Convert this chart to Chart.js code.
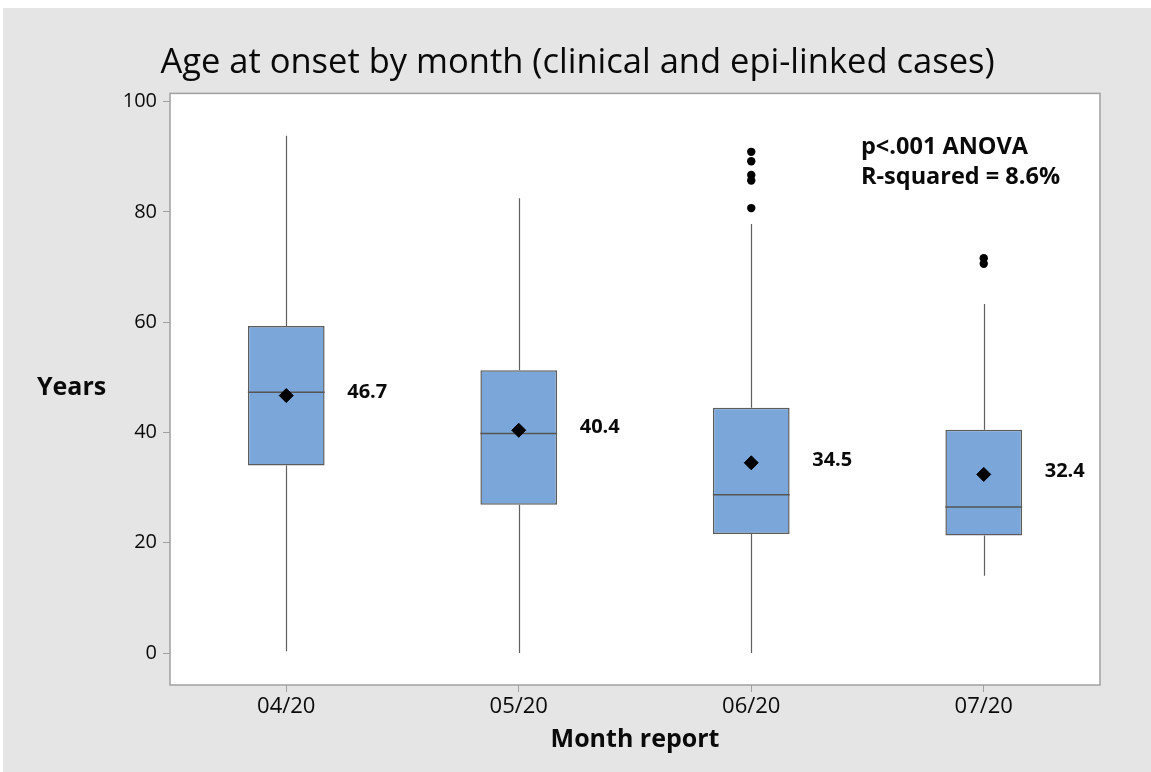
<!DOCTYPE html>
<html>
<head>
<meta charset="utf-8">
<script src="https://cdn.jsdelivr.net/npm/chart.js@4.4.0/dist/chart.umd.min.js"></script>
<style>
  html, body { margin: 0; padding: 0; background: #ffffff; }
  #wrap { position: absolute; left: 0; top: 0; width: 1151px; height: 772px; }
</style>
</head>
<body>
<div id="wrap"><canvas id="boxChart" width="1151" height="772"></canvas></div>
<script>
/* ---------- data ---------- */
const months = ['04/20', '05/20', '06/20', '07/20'];
const whiskerLow = [0.3, 0, 0, 14.0];
const q1 = [34.0, 26.9, 21.6, 21.3];
const medians = [47.3, 39.8, 28.7, 26.5];
const q3 = [59.3, 51.3, 44.5, 40.5];
const whiskerHigh = [93.8, 82.5, 77.8, 63.3];
const means = [46.7, 40.4, 34.5, 32.4];
const outliers0620 = [90.9, 89.2, 86.7, 85.7, 80.7];
const outliers0720 = [71.6, 70.6];
const yTicks = [0, 20, 40, 60, 80, 100];
const notes = ['p<.001 ANOVA', 'R-squared = 8.6%'];

const FONT = "'Open Sans', 'Noto Sans', sans-serif";
const TEXT = '#0a0a0a';
const FRAME = '#a0a0a0';

// floating bars for the boxes
const boxes = months.map((m, i) => [q1[i], q3[i]]);
const outlierPoints = outliers0620.map(v => ({ x: '06/20', y: v }))
  .concat(outliers0720.map(v => ({ x: '07/20', y: v })));

/* ---------- plugin: background, frame, whiskers, medians, labels ---------- */
const boxPlotExtras = {
  id: 'boxPlotExtras',
  beforeDraw(chart) {
    const { ctx, chartArea } = chart;
    ctx.save();
    ctx.fillStyle = '#e5e5e5';
    ctx.fillRect(3, 8, chart.width - 3, chart.height - 8);
    ctx.fillStyle = '#ffffff';
    ctx.fillRect(chartArea.left, chartArea.top, chartArea.right - chartArea.left, chartArea.bottom - chartArea.top);
    ctx.restore();
  },
  beforeDatasetsDraw(chart) {
    const { ctx, scales: { x, y } } = chart;
    ctx.save();
    ctx.strokeStyle = '#606060';
    ctx.lineWidth = 1.2;
    months.forEach((m, i) => {
      const cx = Math.round(x.getPixelForValue(i)) + 0.5;
      ctx.beginPath();
      ctx.moveTo(cx, y.getPixelForValue(whiskerLow[i]));
      ctx.lineTo(cx, y.getPixelForValue(q1[i]));
      ctx.moveTo(cx, y.getPixelForValue(q3[i]));
      ctx.lineTo(cx, y.getPixelForValue(whiskerHigh[i]));
      ctx.stroke();
    });
    ctx.restore();
  },
  afterDatasetDraw(chart, args) {
    if (args.index !== 0) return;
    const { ctx, scales: { y } } = chart;
    const meta = chart.getDatasetMeta(0);
    ctx.save();
    ctx.strokeStyle = '#555555';
    ctx.lineWidth = 1.5;
    meta.data.forEach((bar, i) => {
      const half = bar.width / 2;
      const py = y.getPixelForValue(medians[i]);
      ctx.beginPath();
      ctx.moveTo(bar.x - half, py);
      ctx.lineTo(bar.x + half, py);
      ctx.stroke();
    });
    ctx.restore();
  },
  afterDraw(chart) {
    const { ctx, chartArea, scales: { x, y } } = chart;
    ctx.save();
    // frame round the plot area
    ctx.strokeStyle = FRAME;
    ctx.lineWidth = 1.5;
    ctx.strokeRect(chartArea.left, chartArea.top, chartArea.right - chartArea.left, chartArea.bottom - chartArea.top);

    // mean labels
    ctx.fillStyle = TEXT;
    ctx.font = `bold 20px ${FONT}`;
    ctx.textAlign = 'center';
    ctx.textBaseline = 'middle';
    means.forEach((v, i) => {
      ctx.fillText(v.toFixed(1), x.getPixelForValue(i) + 81, y.getPixelForValue(v) - 3);
    });

    // ANOVA notes
    ctx.textAlign = 'left';
    ctx.font = `bold 23.5px ${FONT}`;
    notes.forEach((t, k) => {
      ctx.fillText(t, 861, 147 + k * 30);
    });

    // horizontal y-axis title
    ctx.font = `bold 25px ${FONT}`;
    ctx.fillText('Years', 37, 388);
    ctx.restore();
  }
};

/* ---------- chart ---------- */
const ctx = document.getElementById('boxChart').getContext('2d');

const chart = new Chart(ctx, {
  type: 'bar',
  data: {
    labels: months,
    datasets: [
      {
        type: 'bar',
        data: boxes,
        backgroundColor: '#7ba6d9',
        borderColor: '#5c5c5c',
        borderWidth: 1.5,
        borderSkipped: false,
        barPercentage: 0.33,
        categoryPercentage: 1,
        order: 3
      },
      {
        type: 'line',
        data: means,
        showLine: false,
        pointStyle: 'rectRot',
        pointRadius: 7,
        pointBackgroundColor: '#000000',
        pointBorderColor: '#000000',
        pointBorderWidth: 1,
        order: 1
      },
      {
        type: 'line',
        data: outlierPoints,
        showLine: false,
        pointStyle: 'circle',
        pointRadius: 4.2,
        pointBackgroundColor: '#000000',
        pointBorderColor: '#000000',
        pointBorderWidth: 0,
        order: 2
      }
    ]
  },
  options: {
    responsive: false,
    animation: false,
    layout: { padding: { left: 55, right: 51, top: 0, bottom: 0 } },
    plugins: {
      legend: { display: false },
      tooltip: { enabled: false },
      title: {
        display: true,
        text: 'Age at onset by month (clinical and epi-linked cases)',
        color: TEXT,
        font: { family: FONT, size: 34.5, weight: 'normal' },
        padding: { top: 42, bottom: 10 }
      }
    },
    scales: {
      x: {
        type: 'category',
        offset: true,
        grid: { display: true, offset: false, drawOnChartArea: false, drawTicks: true, tickLength: 7, color: FRAME },
        border: { display: false },
        ticks: { color: TEXT, font: { family: FONT, size: 22 }, padding: 2 },
        title: {
          display: true,
          text: 'Month report',
          color: TEXT,
          font: { family: FONT, size: 25, weight: 'bold' },
          padding: { top: 0, bottom: 17 }
        },
        afterFit(scale) { scale.height = 87; }
      },
      y: {
        min: -5.8,
        max: 101.5,
        afterBuildTicks(scale) { scale.ticks = yTicks.map(v => ({ value: v })); },
        grid: { display: true, drawOnChartArea: false, drawTicks: true, tickLength: 7, color: FRAME },
        border: { display: false },
        ticks: { color: TEXT, font: { family: FONT, size: 20 }, padding: 6 },
        afterFit(scale) { scale.width = 115; }
      }
    }
  },
  plugins: [boxPlotExtras]
});
</script>
</body>
</html>
